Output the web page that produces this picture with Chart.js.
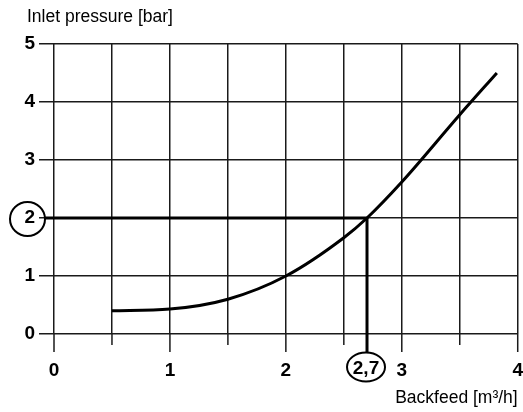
<!DOCTYPE html>
<html>
<head>
<meta charset="utf-8">
<script src="https://cdn.jsdelivr.net/npm/chart.js@4.4.1/dist/chart.umd.min.js"></script>
<style>
  body { margin: 0; background: #fff; }
</style>
</head>
<body>
<canvas id="myChart" width="523" height="412"></canvas>
<script>
// curve
const backfeed = [0.5, 1, 1.5, 2, 2.5, 2.7, 3, 3.5, 3.82];
const pressure = [0.40, 0.43, 0.60, 1.0, 1.66, 2.0, 2.62, 3.78, 4.5];

// marked operating point
const refBackfeed = 2.7;
const refPressure = 2;
const refLabel = '2,7';

const xTicks = [0, 1, 2, 3, 4];
const yTicks = [0, 1, 2, 3, 4, 5];
const yTitle = 'Inlet pressure [bar]';
const xTitle = 'Backfeed [m³/h]';

const fontFamily = "'Liberation Sans', Arial, sans-serif";
const ink = '#000';
const gridInk = '#1a1a1a';

const curve = backfeed.map((x, i) => ({ x: x, y: pressure[i] }));

const markers = {
    id: 'markers',
    beforeDatasetsDraw(chart) {
        const ctx = chart.ctx;
        const xs = chart.scales.x;
        const area = chart.chartArea;
        ctx.save();
        ctx.strokeStyle = gridInk;
        ctx.lineWidth = 1.5;
        // tick stubs below the plot, longer at whole numbers
        for (let v = xs.min; v <= xs.max + 1e-9; v += 0.5) {
            const px = xs.getPixelForValue(v);
            const len = Number.isInteger(v) ? 18 : 11;
            ctx.beginPath();
            ctx.moveTo(px, area.bottom);
            ctx.lineTo(px, area.bottom + len);
            ctx.stroke();
        }
        // axis title at the top left, horizontal
        ctx.fillStyle = ink;
        ctx.font = '17.5px ' + fontFamily;
        ctx.textAlign = 'left';
        ctx.textBaseline = 'middle';
        ctx.fillText(yTitle, 27, 17.5);
        ctx.restore();
    },
    afterDatasetsDraw(chart) {
        const ctx = chart.ctx;
        const xs = chart.scales.x;
        const ys = chart.scales.y;
        const area = chart.chartArea;
        const px = xs.getPixelForValue(refBackfeed);
        const py = ys.getPixelForValue(refPressure);

        const cy = { x: area.left - 26.5, y: py + 1, rx: 17.5, ry: 17 };
        const cx = { x: px - 1, y: 367, rx: 19, ry: 14.5 };

        ctx.save();
        ctx.strokeStyle = ink;
        ctx.lineWidth = 3;
        ctx.beginPath();
        ctx.moveTo(cy.x + cy.rx, py);
        ctx.lineTo(area.left, py);
        ctx.moveTo(px, area.bottom);
        ctx.lineTo(px, cx.y - cx.ry);
        ctx.stroke();

        ctx.lineWidth = 2;
        ctx.beginPath();
        ctx.ellipse(cy.x, cy.y, cy.rx, cy.ry, 0, 0, Math.PI * 2);
        ctx.stroke();
        ctx.beginPath();
        ctx.ellipse(cx.x, cx.y, cx.rx, cx.ry, 0, 0, Math.PI * 2);
        ctx.stroke();

        ctx.fillStyle = ink;
        ctx.font = 'bold 19px ' + fontFamily;
        ctx.textAlign = 'center';
        ctx.textBaseline = 'middle';
        ctx.fillText(refLabel, cx.x, cx.y + 2);
        ctx.restore();
    }
};

const config = {
    type: 'line',
    data: {
        datasets: [{
            data: curve,
            borderColor: ink,
            borderWidth: 3,
            pointRadius: 0,
            cubicInterpolationMode: 'monotone',
            fill: false
        },
        {
            data: [{ x: 0, y: refPressure }, { x: refBackfeed, y: refPressure }],
            borderColor: ink,
            borderWidth: 3,
            pointRadius: 0
        },
        {
            data: [{ x: refBackfeed, y: refPressure }, { x: refBackfeed, y: 0 }],
            borderColor: ink,
            borderWidth: 3,
            pointRadius: 0
        }]
    },
    options: {
        responsive: false,
        animation: false,
        layout: { padding: { left: 0, right: 5, top: 44, bottom: 0 } },
        plugins: {
            legend: { display: false },
            tooltip: { enabled: false },
            title: { display: false }
        },
        scales: {
            x: {
                type: 'linear',
                min: 0,
                max: 4,
                afterFit(scale) { scale.height = 78; },
                border: { display: false },
                grid: { color: gridInk, lineWidth: 1.5, drawTicks: true, tickLength: 25, tickColor: 'rgba(0,0,0,0)' },
                ticks: {
                    stepSize: 0.5,
                    color: ink,
                    padding: 0,
                    maxRotation: 0,
                    font: { family: fontFamily, size: 19, weight: 'bold', lineHeight: 1.2 },
                    callback: (v) => xTicks.includes(v) ? String(v) : ''
                },
                title: {
                    display: true,
                    text: xTitle,
                    align: 'end',
                    color: ink,
                    font: { family: fontFamily, size: 17.5, lineHeight: 1.2 },
                    padding: { top: 0, bottom: 3 }
                }
            },
            y: {
                min: 0,
                max: 5,
                afterFit(scale) { scale.width = 54; },
                border: { display: false },
                grid: { color: gridInk, lineWidth: 1.5, tickLength: 15 },
                ticks: {
                    stepSize: 1,
                    color: ink,
                    padding: 4,
                    font: { family: fontFamily, size: 19, weight: 'bold', lineHeight: 1.2 },
                    callback: (v) => yTicks.includes(v) ? String(v) : ''
                }
            }
        }
    },
    plugins: [markers]
};

const myChart = new Chart(document.getElementById('myChart'), config);
</script>
</body>
</html>
